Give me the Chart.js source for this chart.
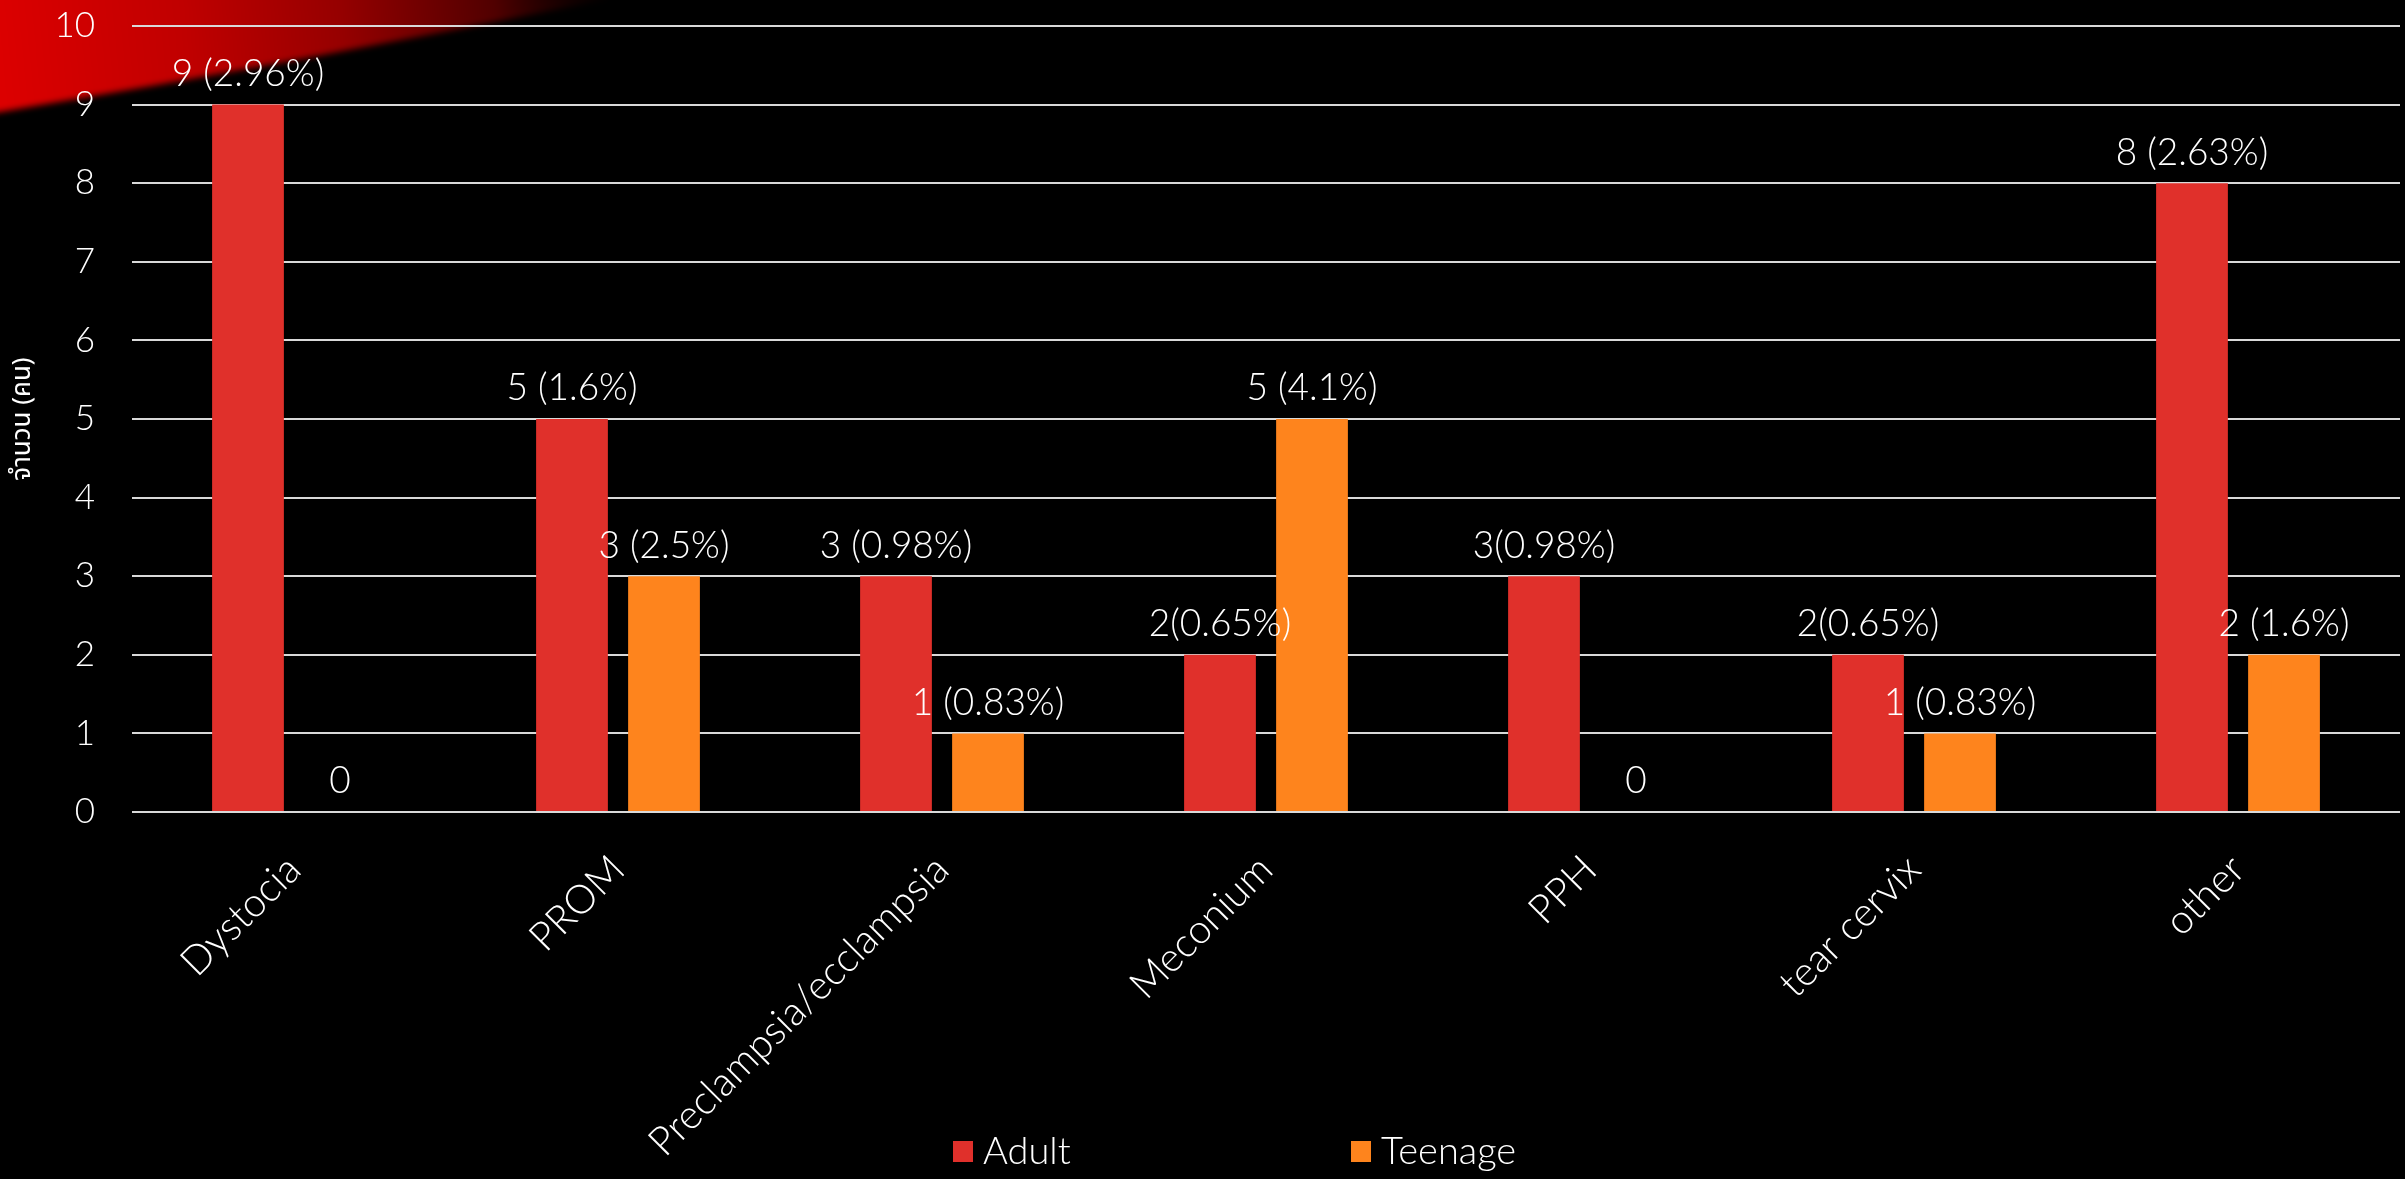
<!DOCTYPE html>
<html>
<head>
<meta charset="utf-8">
<title>Complications by age group</title>
<script src="https://cdn.jsdelivr.net/npm/chart.js@4.4.1/dist/chart.umd.min.js"></script>
<style>
  html, body { margin: 0; padding: 0; background: #000; overflow: hidden; }
  #wrap { width: 2405px; height: 1179px; position: relative; }
  canvas { display: block; }
</style>
</head>
<body>
<div id="wrap"><canvas id="chart" width="2405" height="1179"></canvas></div>
<script>
// Categories and counts
const categories = ["Dystocia", "PROM", "Preclampsia/ecclampsia", "Meconium", "PPH", "tear cervix", "other"];
const adultCounts = [9, 5, 3, 2, 3, 2, 8];
const teenageCounts = [0, 3, 1, 5, 0, 1, 2];

// Value labels shown above each bar
const adultLabels = ["9 (2.96%)", "5 (1.6%)", "3 (0.98%)", "2(0.65%)", "3(0.98%)", "2(0.65%)", "8 (2.63%)"];
const teenageLabels = ["0", "3 (2.5%)", "1 (0.83%)", "5 (4.1%)", "0", "1 (0.83%)", "2 (1.6%)"];

// Series names and y-axis
const seriesNames = ["Adult", "Teenage"];
const yAxisTitle = "จำนวน (คน)";
const yMin = 0, yMax = 10, yStep = 1;

const FONT = "Lato, 'Liberation Sans', 'DejaVu Sans', sans-serif";
const THAI_FONT = "'Noto Sans Thai', 'Noto Sans Thai UI', Loma, Garuda, 'Tlwg Typo', Lato, 'DejaVu Sans', sans-serif";
const ADULT_COLOR = "#E0302B";
const TEEN_COLOR = "#FE841D";

// Dark slide background with a soft red sweep in the upper-left corner
const slideBackground = {
  id: "slideBackground",
  beforeDraw(chart) {
    const ctx = chart.ctx;
    ctx.save();
    ctx.fillStyle = "#000";
    ctx.fillRect(0, 0, chart.width, chart.height);
    const g = ctx.createLinearGradient(0, 60, 620, 0);
    g.addColorStop(0, "#dc0000");
    g.addColorStop(0.3, "#c00000");
    g.addColorStop(0.55, "#960000");
    g.addColorStop(0.8, "#500000");
    g.addColorStop(1, "rgba(30,0,0,0)");
    ctx.filter = "blur(3px)";
    ctx.fillStyle = g;
    ctx.beginPath();
    ctx.moveTo(-20, -20);
    ctx.lineTo(620, -20);
    ctx.lineTo(605, 0);
    ctx.quadraticCurveTo(300, 62, 0, 112);
    ctx.lineTo(-20, 115);
    ctx.closePath();
    ctx.fill();
    ctx.restore();
  }
};

// Text labels above bars
const barValueLabels = {
  id: "barValueLabels",
  afterDatasetsDraw(chart) {
    const ctx = chart.ctx;
    ctx.save();
    ctx.fillStyle = "#fff";
    ctx.font = "300 37px " + FONT;
    ctx.textAlign = "center";
    ctx.textBaseline = "bottom";
    chart.data.datasets.forEach((ds, di) => {
      const meta = chart.getDatasetMeta(di);
      meta.data.forEach((bar, i) => {
        ctx.fillText(ds.valueLabels[i], bar.x, bar.y - 12);
      });
    });
    ctx.restore();
  }
};

// Series key along the bottom edge
const bottomKey = {
  id: "bottomKey",
  afterDraw(chart, args, opts) {
    const ctx = chart.ctx;
    ctx.save();
    ctx.font = "300 38px " + FONT;
    ctx.textBaseline = "middle";
    ctx.textAlign = "left";
    chart.data.datasets.forEach((ds, i) => {
      const x = opts.startX + i * opts.step;
      ctx.fillStyle = ds.backgroundColor;
      ctx.fillRect(x, opts.y - 10, 20, 21);
      ctx.fillStyle = "#fff";
      ctx.fillText(ds.label, x + 30, opts.y + 1);
    });
    ctx.restore();
  }
};

new Chart(document.getElementById("chart"), {
  type: "bar",
  data: {
    labels: categories,
    datasets: [
      { label: seriesNames[0], data: adultCounts, valueLabels: adultLabels, backgroundColor: ADULT_COLOR },
      { label: seriesNames[1], data: teenageCounts, valueLabels: teenageLabels, backgroundColor: TEEN_COLOR }
    ]
  },
  options: {
    responsive: false,
    animation: false,
    devicePixelRatio: 1,
    categoryPercentage: 0.568,
    barPercentage: 0.78,
    layout: { padding: { top: 26, right: 5, left: 0, bottom: 0 } },
    plugins: {
      legend: { display: false },
      tooltip: { enabled: false },
      bottomKey: { startX: 953, step: 398, y: 1151 }
    },
    scales: {
      y: {
        min: yMin,
        max: yMax,
        border: { display: false },
        grid: { color: "#d9d9d9", lineWidth: 2, drawTicks: false },
        ticks: {
          stepSize: yStep,
          color: "#fff",
          padding: 37,
          font: { family: FONT, size: 35, weight: 300 }
        },
        title: {
          display: true,
          text: yAxisTitle,
          color: "#fff",
          padding: { top: 9, bottom: 14 },
          font: { family: THAI_FONT, size: 26 }
        },
        afterFit(scale) {
          scale.width = 132;
          scale.paddingTop = 0;
          scale.paddingBottom = 0;
        }
      },
      x: {
        border: { display: false },
        grid: { display: false, drawTicks: false },
        ticks: {
          color: "#fff",
          minRotation: 45,
          maxRotation: 45,
          autoSkip: false,
          padding: 34,
          font: { family: FONT, size: 40, weight: 300 }
        },
        afterFit(scale) {
          scale.height = 367;
          scale.paddingLeft = 0;
          scale.paddingRight = 0;
        }
      }
    }
  },
  plugins: [slideBackground, barValueLabels, bottomKey]
});
</script>
</body>
</html>
